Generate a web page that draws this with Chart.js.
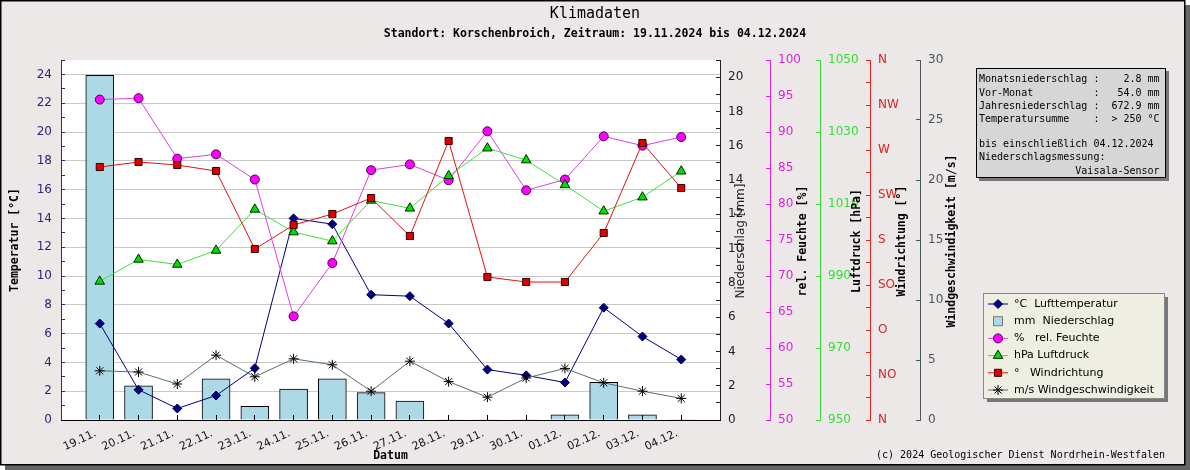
<!DOCTYPE html>
<html>
<head>
<meta charset="utf-8">
<title>Klimadaten</title>
<script src="https://cdn.jsdelivr.net/npm/chart.js@4.4.1/dist/chart.umd.min.js"></script>
<style>
  html, body { margin: 0; padding: 0; background: #fff; }
  canvas { display: block; }
</style>
</head>
<body>
<canvas id="klima" width="1190" height="470"></canvas>
<script>
const tage = ['19.11.', '20.11.', '21.11.', '22.11.', '23.11.', '24.11.', '25.11.', '26.11.',
              '27.11.', '28.11.', '29.11.', '30.11.', '01.12.', '02.12.', '03.12.', '04.12.'];
const temperatur   = [6.7, 2.1, 0.8, 1.7, 3.6, 14.0, 13.6, 8.7, 8.6, 6.7, 3.5, 3.1, 2.6, 7.8, 5.8, 4.2];
const niederschlag = [20.1, 2.0, 0, 2.4, 0.8, 1.8, 2.4, 1.6, 1.1, 0, 0, 0, 0.3, 2.2, 0.3, 0];
const feuchte      = [94.5, 94.7, 86.3, 86.9, 83.4, 64.4, 71.8, 84.7, 85.5, 83.3, 90.1, 81.9, 83.4, 89.4, 88.1, 89.3];
const luftdruck    = [988.5, 994.6, 993.2, 997.1, 1008.5, 1002.2, 999.7, 1011.0, 1008.8, 1017.8, 1025.5, 1022.2, 1015.3, 1008.0, 1011.9, 1019.1];
const windrichtung = [253, 258, 255, 249, 171, 195, 206, 222, 184, 279, 143, 138, 138, 187, 277, 232];
const windgeschw   = [4.1, 4.0, 3.0, 5.4, 3.6, 5.1, 4.6, 2.4, 4.9, 3.2, 1.9, 3.5, 4.3, 3.1, 2.4, 1.8];

// Achsenbeschriftung Windrichtung (alle 45°)
const himmelsrichtungen = ['N', 'NO', 'O', 'SO', 'S', 'SW', 'W', 'NW', 'N'];

const infoZeilen = [
  'Monatsniederschlag :    2.8 mm',
  'Vor-Monat          :   54.0 mm',
  'Jahresniederschlag :  672.9 mm',
  'Temperatursumme    :  > 250 °C',
  '',
  'bis einschließlich 04.12.2024',
  'Niederschlagsmessung:',
  '                Vaisala-Sensor'
];

// leere Kategorie vorne und hinten, damit die Tage wie im Original eingerückt sind
const labels = ['', ...tage, ''];
const pad = arr => [null, ...arr, null];

const MONO = '"DejaVu Sans Mono", monospace';
const SANS = '"DejaVu Sans", sans-serif';
Chart.defaults.font.family = SANS;

function senkrecht(ctx, text, x, y, font, farbe) {
  ctx.save();
  ctx.translate(x, y);
  ctx.rotate(-Math.PI / 2);
  ctx.font = font;
  ctx.fillStyle = farbe;
  ctx.textAlign = 'center';
  ctx.textBaseline = 'middle';
  ctx.fillText(text, 0, 0);
  ctx.restore();
}

const rahmenPlugin = {
  id: 'rahmen',
  beforeDraw(chart) {
    const c = chart.ctx;
    const a = chart.chartArea;
    c.save();
    c.fillStyle = '#fff';
    c.fillRect(0, 0, chart.width, chart.height);
    c.fillStyle = '#666';
    c.fillRect(5, 5, 1185, 465);
    c.fillStyle = '#ece8e7';
    c.fillRect(0, 0, 1185, 465);
    c.strokeStyle = '#000';
    c.lineWidth = 1.5;
    c.strokeRect(0.75, 0.75, 1184, 464);
    c.fillStyle = '#fff';
    c.fillRect(a.left, a.top, a.right - a.left, a.bottom - a.top);
    c.restore();
  },
  afterDatasetsDraw(chart) {
    // Striche der x-Achse liegen im Original über den Balken
    const x = chart.scales.x;
    x.drawGrid(chart.chartArea);
    x.drawBorder();
  },
  afterDraw(chart) {
    const c = chart.ctx;
    const a = chart.chartArea;
    c.save();
    // Titel
    c.fillStyle = '#000';
    c.textAlign = 'center';
    c.textBaseline = 'middle';
    c.font = '15px ' + MONO;
    c.fillText('Klimadaten', 595, 14);
    c.font = 'bold 11.5px ' + MONO;
    c.fillText('Standort: Korschenbroich, Zeitraum: 19.11.2024 bis 04.12.2024', 595, 34);
    c.fillText('Datum', (a.left + a.right) / 2, 456);

    // Achsentitel
    const fett = 'bold 11.5px ' + MONO;
    senkrecht(c, 'Temperatur [°C]', 15, 240, fett, '#000');
    senkrecht(c, 'Niederschlag [mm]', 741, 241, '12px ' + SANS, '#222');
    senkrecht(c, 'rel. Feuchte [%]', 803, 241, fett, '#000');
    senkrecht(c, 'Luftdruck [hPa]', 857, 241, fett, '#000');
    senkrecht(c, 'Windrichtung [°]', 902, 241, fett, '#000');
    senkrecht(c, 'Windgeschwindigkeit [m/s]', 952, 241, fett, '#000');

    // Infokasten
    c.fillStyle = '#777';
    c.fillRect(979, 71, 190, 110);
    c.fillStyle = '#d6d6d6';
    c.fillRect(976, 68, 189, 109);
    c.strokeStyle = '#000';
    c.lineWidth = 1;
    c.strokeRect(976.5, 68.5, 189, 109);
    c.fillStyle = '#000';
    c.textAlign = 'left';
    c.font = '10px ' + MONO;
    const zeilenY = [79, 93, 106, 119, 131, 144, 157, 171];
    infoZeilen.forEach((z, i) => c.fillText(z, 979, zeilenY[i]));

    // Legende
    c.fillStyle = '#777';
    c.fillRect(987, 297, 181, 105);
    c.fillStyle = '#eeeee3';
    c.fillRect(983, 293, 181, 105);
    c.strokeStyle = '#888';
    c.strokeRect(983.5, 293.5, 181, 105);
    const lx = 998;
    chart.data.datasets.forEach((ds, i) => {
      const y = 304 + i * 17.2;
      if (ds.type === 'bar') {
        c.fillStyle = ds.backgroundColor;
        c.fillRect(lx - 4, y - 4, 8, 8);
        c.strokeStyle = '#777';
        c.lineWidth = 1;
        c.strokeRect(lx - 4.5, y - 4.5, 9, 9);
      } else {
        c.strokeStyle = ds.borderColor;
        c.lineWidth = 1;
        c.beginPath();
        c.moveTo(lx - 10, y);
        c.lineTo(lx + 10, y);
        c.stroke();
        c.fillStyle = ds.pointBackgroundColor;
        c.strokeStyle = ds.pointBorderColor;
        Chart.helpers.drawPoint(c, {
          pointStyle: ds.pointStyle, radius: ds.pointRadius, rotation: 0, borderWidth: 1
        }, lx, y);
      }
      c.fillStyle = '#000';
      c.font = '11px ' + SANS;
      c.textAlign = 'left';
      c.fillText(ds.label, 1014, y);
    });

    // Quelle
    c.font = '10px ' + MONO;
    c.textAlign = 'right';
    c.fillText('(c) 2024 Geologischer Dienst Nordrhein-Westfalen', 1165, 455);
    c.restore();
  }
};

function rechteAchse(min, max, schritt, farbe, gewicht, breite, beschriftung) {
  return {
    position: 'right',
    min: min,
    max: max,
    weight: gewicht,
    ticks: {
      stepSize: schritt,
      autoSkip: false,
      color: farbe,
      font: { size: 12 },
      padding: 12,
      callback: beschriftung || (v => v)
    },
    grid: { drawOnChartArea: false, tickLength: -4, tickColor: farbe },
    border: { color: farbe, width: 1 },
    afterFit: s => { s.width = breite; }
  };
}

new Chart(document.getElementById('klima').getContext('2d'), {
  data: {
    labels: labels,
    datasets: [
      {
        type: 'line', label: '°C  Lufttemperatur', data: pad(temperatur), yAxisID: 'yT',
        borderColor: '#000080', borderWidth: 1,
        pointStyle: 'rectRot', pointRadius: 4.5, pointBackgroundColor: '#000080',
        pointBorderColor: '#000050', pointBorderWidth: 1, order: 6
      },
      {
        type: 'bar', label: 'mm  Niederschlag', data: pad(niederschlag), yAxisID: 'yN',
        backgroundColor: '#add8e6', borderColor: '#000',
        borderWidth: c => (c.raw > 0 ? 1 : 0), barThickness: 28, order: 10
      },
      {
        type: 'line', label: '%   rel. Feuchte', data: pad(feuchte), yAxisID: 'yF',
        borderColor: '#e040e0', borderWidth: 1,
        pointStyle: 'circle', pointRadius: 4.5, pointBackgroundColor: '#ff00ff',
        pointBorderColor: '#500050', pointBorderWidth: 1, order: 5
      },
      {
        type: 'line', label: 'hPa Luftdruck', data: pad(luftdruck), yAxisID: 'yL',
        borderColor: '#40e040', borderWidth: 1,
        pointStyle: 'triangle', pointRadius: 5.5, pointBackgroundColor: '#00dd00',
        pointBorderColor: '#002800', pointBorderWidth: 1, order: 4
      },
      {
        type: 'line', label: '°   Windrichtung', data: pad(windrichtung), yAxisID: 'yR',
        borderColor: '#e81010', borderWidth: 1,
        pointStyle: 'rect', pointRadius: 5, pointBackgroundColor: '#e00000',
        pointBorderColor: '#300000', pointBorderWidth: 1, order: 3
      },
      {
        type: 'line', label: 'm/s Windgeschwindigkeit', data: pad(windgeschw), yAxisID: 'yW',
        borderColor: '#557070', borderWidth: 1,
        pointStyle: 'star', pointRadius: 5, pointBackgroundColor: '#000',
        pointBorderColor: '#000', pointBorderWidth: 1, order: 2
      }
    ]
  },
  options: {
    responsive: false,
    animation: false,
    devicePixelRatio: 1,
    layout: { padding: { left: 0, top: 60, right: 215, bottom: 0 } },
    plugins: { legend: { display: false }, tooltip: { enabled: false } },
    scales: {
      x: {
        type: 'category',
        offset: false,
        grid: {
          offset: false, drawOnChartArea: false, tickLength: -5,
          tickColor: c => (c.index === 0 || c.index === labels.length - 1 ? 'rgba(0,0,0,0)' : '#000')
        },
        border: { color: '#000', width: 1 },
        ticks: {
          autoSkip: false, maxRotation: 25, minRotation: 25,
          color: '#111', font: { size: 11 }, padding: 12, labelOffset: -4
        },
        afterFit: s => { s.height = 50; }
      },
      yT: {
        position: 'left',
        min: 0, max: 25,
        ticks: {
          stepSize: 1, autoSkip: false, color: '#2a2a80', font: { size: 12 }, padding: 13,
          callback: v => (v % 2 === 0 ? v : '')
        },
        grid: {
          color: c => (c.tick && c.tick.value % 2 === 0 && c.tick.value > 0 ? '#c8c8c8' : 'rgba(0,0,0,0)'),
          tickColor: '#2a2a80', tickLength: -4
        },
        border: { color: '#2a2a80', width: 1 },
        afterFit: s => { s.width = 61; }
      },
      yN: rechteAchse(0, 21, 1, '#222', 0, 50, v => (v % 2 === 0 ? v : '')),
      yF: rechteAchse(50, 100, 5, '#dd22dd', 1, 50),
      yL: rechteAchse(950, 1050, 20, '#33dd33', 2, 50),
      yR: rechteAchse(0, 360, 22.5, '#dd2222', 3, 50,
                      v => (v % 45 === 0 ? himmelsrichtungen[v / 45] : '')),
      yW: rechteAchse(0, 30, 5, '#4a5555', 4, 55)
    }
  },
  plugins: [rahmenPlugin]
});
</script>
</body>
</html>
